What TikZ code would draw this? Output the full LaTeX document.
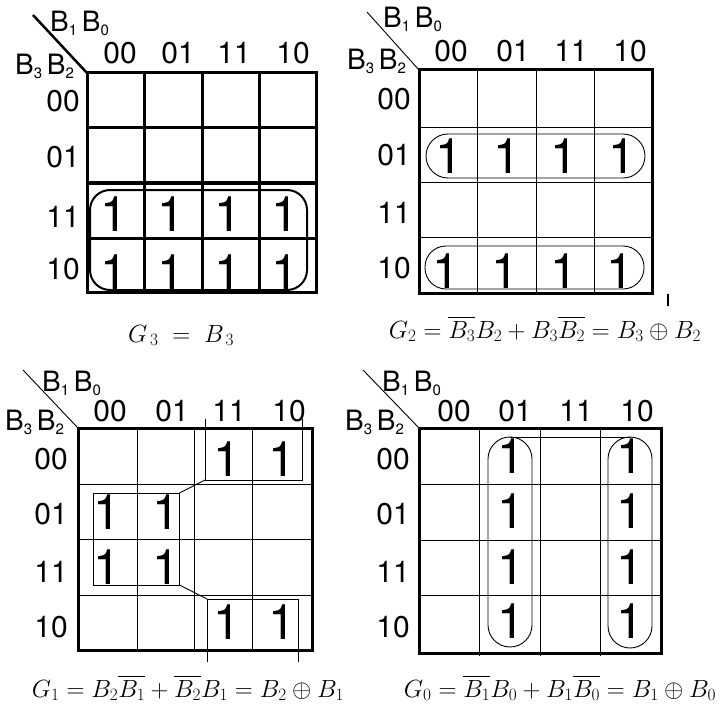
\documentclass[tikz,border=0pt]{standalone}
\usepackage[no-math]{fontspec}
\setmainfont{TeX Gyre Heros}
\usepackage{amsmath}
\usetikzlibrary{positioning}
\newcommand{\sbx}[1]{\raisebox{-4pt}{\fontsize{15}{15}\selectfont #1}}
\newcommand{\bpair}[2]{B\sbx{#1}\,B\sbx{#2}}

\begin{document}
\begin{tikzpicture}[x=1pt, y=-1pt,
  heavy/.style={line width=3pt},
  light/.style={line width=0.9pt},
  ring/.style={line width=0.9pt, rounded corners=#1},
  lbl/.style={font=\fontsize{30}{30}\selectfont, inner sep=0pt},
  vars/.style={font=\fontsize{28}{28}\selectfont, inner sep=0pt, anchor=base west},
  one/.style={font=\fontsize{49}{49}\selectfont, inner sep=0pt},
  eqn/.style={font=\fontsize{24}{24}\selectfont, inner sep=0pt, anchor=base}
]
\useasboundingbox (0,0) rectangle (722,714);

% ---------- Map G3 (top left) ----------
\draw[line width=2.5pt] (33,15) -- (87,73);
\node[vars] (m1top) at (50,32) {\bpair{1}{0}};
\node[vars] (m1side) at (15,75) {\bpair{3}{2}};
\draw[heavy] (87,73) rectangle (316,292);
\draw[heavy] (144.5,73) -- (144.5,292) (202,73) -- (202,292) (259,73) -- (259,292);
\draw[heavy] (87,128) -- (316,128) (87,183) -- (316,183) (87,238) -- (316,238);
\foreach \t/\x [count=\i] in {00/120,01/178,11/234,10/293}
  \node[lbl] (m1c\i) at (\x,53) {\t};
\foreach \t/\y [count=\i] in {00/101,01/157,11/217,10/269}
  \node[lbl] (m1r\i) at (63,\y) {\t};
\foreach \x [count=\i] in {114,171,228,285} {
  \node[one] (m1a\i) at (\x,214) {1};
  \node[one] (m1b\i) at (\x,272) {1};
}
\draw[line width=2pt, rounded corners=20pt] (90,190) rectangle (307,290);
\node[eqn] (g3) at (181,342) {$G_{\,3}\;=\;B_{\,3}$};

% ---------- Map G2 (top right) ----------
\draw[light] (367,12) -- (419,70);
\node[vars] (m2top) at (383,28) {\bpair{1}{0}};
\node[vars] (m2side) at (347,70) {\bpair{3}{2}};
\draw[light] (477,70) -- (477,293) (536,70) -- (536,293) (594,70) -- (594,293);
\draw[light] (419,127) -- (654,127) (419,182) -- (654,182) (419,237) -- (654,237);
\draw[heavy] (419,70) rectangle (652,293);
\foreach \t/\x [count=\i] in {00/451,01/513,11/571,10/630}
  \node[lbl] (m2c\i) at (\x,51) {\t};
\foreach \t/\y [count=\i] in {00/99,01/155,11/213,10/268}
  \node[lbl] (m2r\i) at (394,\y) {\t};
\foreach \x [count=\i] in {449,507,564,622}
  \node[one] (m2a\i) at (\x,156) {1};
\foreach \x [count=\i] in {446,505,564,620}
  \node[one] (m2b\i) at (\x,271) {1};
\draw[ring=22pt] (426,134) rectangle (645,178);
\draw[ring=21pt] (425,246) rectangle (644,289);
\coordinate (tickA) at (668,294);
\coordinate (tickB) at (668,306);
\draw[line width=2pt] (tickA) -- (tickB);
\node[eqn] (g2) at (545,338)
  {$G_2=\overline{B_3}B_2+B_3\overline{B_2}=B_3\oplus B_2$};

% ---------- Map G1 (bottom left) ----------
\draw[light] (23,370) -- (78,428);
\node[vars] (m3top) at (42,391) {\bpair{1}{0}};
\node[vars] (m3side) at (5,430) {\bpair{3}{2}};
\draw[light] (137,428) -- (137,650) (194,428) -- (194,650) (252,428) -- (252,650);
\draw[light] (78,484) -- (312,484) (78,539) -- (312,539) (78,595) -- (312,595);
\draw[heavy] (78,428) rectangle (312,650);
\foreach \t/\x [count=\i] in {00/110,01/172,11/229,10/289}
  \node[lbl] (m3c\i) at (\x,411) {\t};
\foreach \t/\y [count=\i] in {00/459,01/514,11/572,10/627}
  \node[lbl] (m3r\i) at (51,\y) {\t};
\node[one] (m3a1) at (227,459) {1};
\node[one] (m3a2) at (282,459) {1};
\node[one] (m3b1) at (107,512) {1};
\node[one] (m3b2) at (166,512) {1};
\node[one] (m3c1) at (107,567) {1};
\node[one] (m3c2) at (166,567) {1};
\node[one] (m3d1) at (227,622) {1};
\node[one] (m3d2) at (282,622) {1};
\coordinate (upL) at (205,480);
\coordinate (upR) at (302,480);
\coordinate (loL) at (207,599);
\coordinate (loR) at (298,599);
\coordinate (midNE) at (179.5,493);
\coordinate (midSE) at (179.5,585);
\draw[light] (205,419) -- (upL) -- (upR) -- (302,419);
\draw[light] (207,662) -- (loL) -- (loR) -- (298,662);
\draw[light] (93,493) rectangle (midSE);
\draw[light] (midNE) -- (upL);
\draw[light] (midSE) -- (loL);
\node[eqn, font=\fontsize{23}{23}\selectfont] (g1) at (188,697)
  {$G_1=B_2\overline{B_1}+\overline{B_2}B_1=B_2\oplus B_1$};

% ---------- Map G0 (bottom right) ----------
\draw[light] (363,370) -- (419,428);
\node[vars] (m4top) at (382,391) {\bpair{1}{0}};
\node[vars] (m4side) at (345,430) {\bpair{3}{2}};
\draw[light] (479,428) -- (479,656) (540,428) -- (540,656) (600,428) -- (600,656);
\draw[light] (419,484) -- (662,484) (419,540) -- (662,540) (419,595) -- (662,595);
\draw[heavy] (419,428) rectangle (661,653);
\foreach \t/\x [count=\i] in {00/454,01/515,11/576,10/637}
  \node[lbl] (m4c\i) at (\x,411) {\t};
\foreach \t/\y [count=\i] in {00/459,01/514,11/572,10/627}
  \node[lbl] (m4r\i) at (393,\y) {\t};
\foreach \y [count=\i] in {456,511,567,621} {
  \node[one] (m4a\i) at (511,\y) {1};
  \node[one] (m4b\i) at (630,\y) {1};
}
\draw[ring=22pt] (488,437) rectangle (532,647);
\draw[ring=22pt] (608,437) rectangle (652,648);
\coordinate (capL) at (510,437);
\coordinate (capR) at (630,437);
\draw[light] (capL) -- (capR);
\node[eqn] (g0) at (560,697)
  {$G_0=\overline{B_1}B_0+B_1\overline{B_0}=B_1\oplus B_0$};
\end{tikzpicture}
\end{document}
